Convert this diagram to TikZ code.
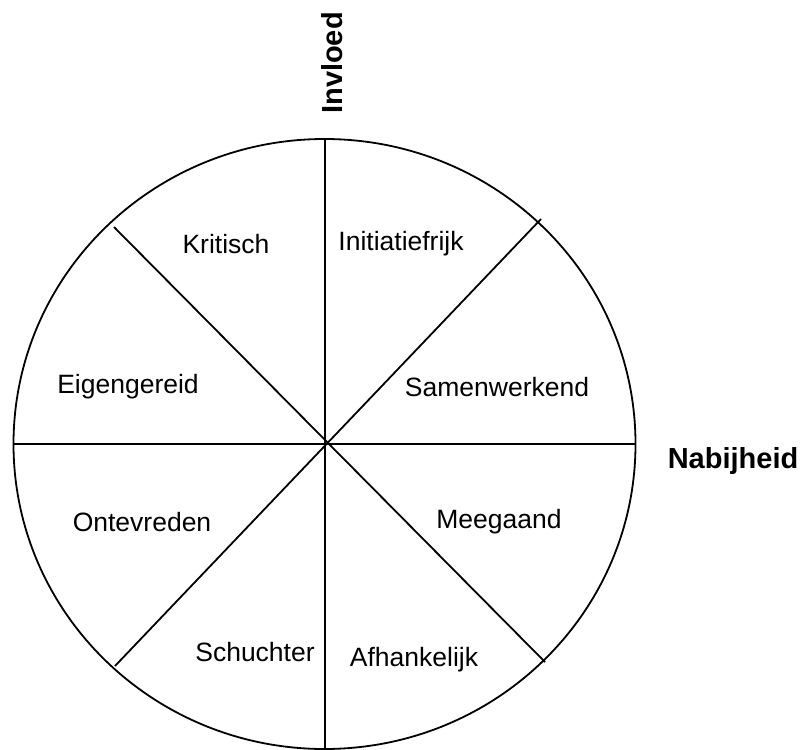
\documentclass[tikz,border=0pt]{standalone}
\usepackage{fontspec}
\setmainfont{Liberation Sans}
\begin{document}
\begin{tikzpicture}[x=1pt,y=-1pt,
  seg/.style={line width=1.8pt, line cap=butt},
  lbl/.style={font=\fontsize{26.5}{30}\selectfont, inner sep=0pt},
  axislbl/.style={font=\fontsize{29}{33}\selectfont\bfseries, inner sep=0pt}]
\useasboundingbox (0,0) rectangle (802,749);
\begin{scope}
\clip (0,0) rectangle (802,749);
\draw[seg] (324.5,444) ellipse [x radius=311, y radius=305];
\coordinate (c) at (325,444);
\coordinate (top) at (325,140);
\coordinate (bot) at (325,752);
\coordinate (lft) at (13.5,444);
\coordinate (rgt) at (635.5,444);
\coordinate (ur) at (541,219);
\coordinate (ul) at (114,227);
\coordinate (ll) at (115,666);
\coordinate (lr) at (545,662);
\draw[seg] (top) -- (bot);
\draw[seg] (lft) -- (rgt);
\draw[seg] (ll) -- (ur);
\draw[seg] (ul) -- (lr);
\end{scope}
\node[lbl] (kritisch) at (226,244) {Kritisch};
\node[lbl] (initiatief) at (401,244) {Initiatiefrijk};
\node[lbl] (eigen) at (128,387) {Eigengereid};
\node[lbl] (samen) at (497,387) {Samenwerkend};
\node[lbl] (ontevreden) at (142,522) {Ontevreden};
\node[lbl] (meegaand) at (499,522) {Meegaand};
\node[lbl] (schuchter) at (255,652) {Schuchter};
\node[lbl] (afhankelijk) at (414,660) {Afhankelijk};
\node[axislbl, rotate=90] (invloed) at (332,63) {Invloed};
\node[axislbl] (nabij) at (733,461) {Nabijheid};
\end{tikzpicture}
\end{document}
